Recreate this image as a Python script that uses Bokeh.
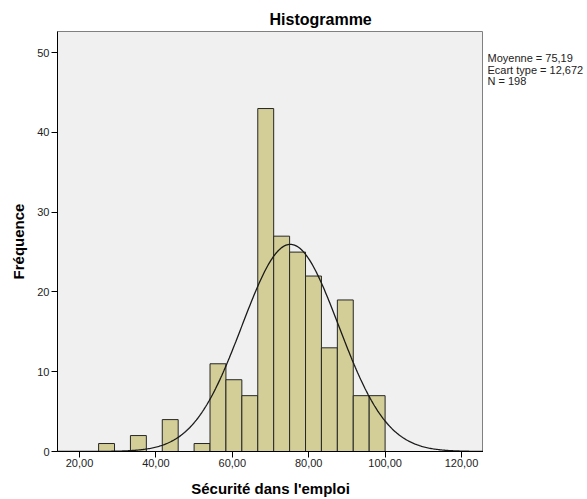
import numpy as np
from bokeh.plotting import figure
from bokeh.models import Range1d, FixedTicker, Label
from bokeh.layouts import row
from bokeh.embed import file_html
from bokeh.resources import INLINE

# ---- data ----
bin_start = 25.0
bin_width = 25.0 / 6.0
counts = [1, 0, 2, 0, 4, 0, 1, 11, 9, 7, 43, 27, 25, 22, 13, 19, 7, 7]
mean_val = 75.19
std_val = 12.672
n_obs = 198
x_ticks = [20, 40, 60, 80, 100, 120]
x_tick_labels = ["20,00", "40,00", "60,00", "80,00", "100,00", "120,00"]
y_ticks = [0, 10, 20, 30, 40, 50]
title_text = "Histogramme"
x_label = "Sécurité dans l'emploi"
y_label = "Fréquence"
stats_lines = ["Moyenne = 75,19", "Ecart type = 12,672", "N = 198"]

FONT = "Liberation Sans"
W_MAIN, W_SIDE, H = 483, 104, 499

x_lo, x_hi = 14.24, 125.76
y_lo, y_hi = 0.0, 52.66
PX_Y = 8.0          # pixels per y unit
FRAME_TOP = 31      # frame top in pixels

p = figure(width=W_MAIN, height=H, output_backend="svg", toolbar_location=None,
           x_range=Range1d(x_lo, x_hi), y_range=Range1d(y_lo, y_hi),
           min_border_left=57, min_border_right=0,
           min_border_top=FRAME_TOP, min_border_bottom=47)

p.background_fill_color = "#F0F0F0"
p.border_fill_color = "white"
p.outline_line_color = "#808080"
p.outline_line_width = 1
p.xgrid.visible = False
p.ygrid.visible = False

p.title.text = title_text
p.title.align = "left"
p.title.offset = 212
p.title.standoff = 7
p.title.text_font = FONT
p.title.text_font_size = "16px"
p.title.text_font_style = "bold"
p.title.text_color = "black"

edges = bin_start + bin_width * np.arange(len(counts) + 1)
c = np.array(counts, dtype=float)
mask = c > 0
p.quad(left=edges[:-1][mask], right=edges[1:][mask], bottom=0, top=c[mask],
       fill_color="#D3CE97", line_color="#262626", line_width=1)

xs = np.linspace(x_lo, x_hi, 400)
ys = n_obs * bin_width * np.exp(-0.5 * ((xs - mean_val) / std_val) ** 2) / (std_val * np.sqrt(2 * np.pi))
p.line(xs, ys, line_color="#1a1a1a", line_width=1.3)

for ax in (p.xaxis[0], p.yaxis[0]):
    ax.axis_line_color = "black"
    ax.major_tick_line_color = "black"
    ax.major_tick_in = 0
    ax.major_tick_out = 6
    ax.minor_tick_line_color = None
    ax.major_label_text_font = FONT
    ax.major_label_text_font_size = "11px"
    ax.major_label_text_color = "#222222"
    ax.axis_label_text_font = FONT
    ax.axis_label_text_font_size = "15px"
    ax.axis_label_text_font_style = "bold"
    ax.axis_label_text_color = "black"

p.xaxis.ticker = FixedTicker(ticks=x_ticks)
p.xaxis.major_label_overrides = {t: l for t, l in zip(x_ticks, x_tick_labels)}
p.xaxis.major_label_standoff = 1
p.xaxis.axis_label = x_label
p.xaxis.axis_label_standoff = 10

p.yaxis.ticker = FixedTicker(ticks=y_ticks)
p.yaxis.major_label_standoff = 2
p.yaxis.axis_label = y_label
p.yaxis.axis_label_standoff = 7

# side panel holding the summary statistics (its frame is aligned with the main frame)
side = figure(width=W_SIDE, height=H, output_backend="svg", toolbar_location=None,
              x_range=Range1d(0, W_SIDE), y_range=Range1d(y_lo, y_hi),
              min_border_left=0, min_border_right=0,
              min_border_top=FRAME_TOP, min_border_bottom=47)
side.axis.visible = False
side.xgrid.visible = False
side.ygrid.visible = False
side.outline_line_color = None
side.background_fill_color = "white"
side.border_fill_color = "white"

for i, s in enumerate(stats_lines):
    side.add_layout(Label(x=4, y=y_hi - (27 + 11.5 * i) / PX_Y, text=s,
                          text_align="left", text_baseline="middle",
                          text_font=FONT, text_font_size="11px", text_color="#222222"))

layout = row(p, side, spacing=0)
open("out.html", "w").write(file_html(layout, INLINE))
